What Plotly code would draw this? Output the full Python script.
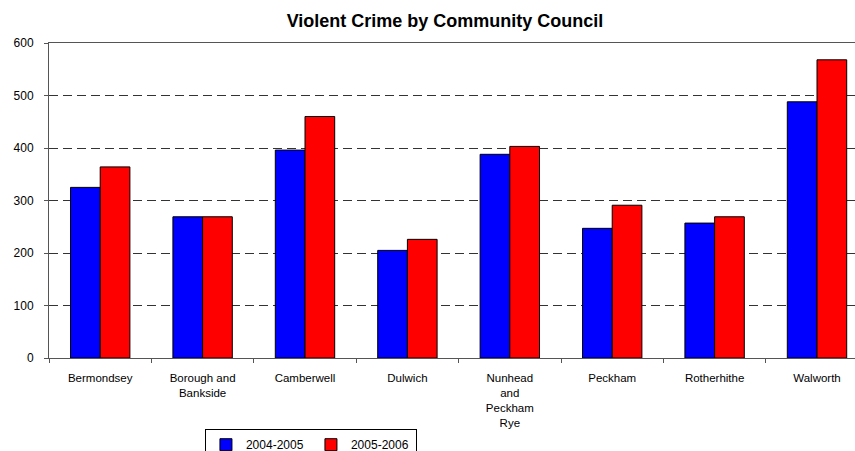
import plotly.graph_objects as go

# Community councils (category axis labels, with line breaks)
councils = [
    "Bermondsey",
    "Borough and<br>Bankside",
    "Camberwell",
    "Dulwich",
    "Nunhead<br>and<br>Peckham<br>Rye",
    "Peckham",
    "Rotherhithe",
    "Walworth",
]

# Violent crime counts per council
crime_2004_2005 = [325, 269, 396, 205, 388, 247, 257, 488]
crime_2005_2006 = [364, 269, 460, 226, 403, 291, 269, 568]

series_names = ["2004-2005", "2005-2006"]
y_ticks = [0, 100, 200, 300, 400, 500, 600]

FONT = "Liberation Sans, Arial, sans-serif"

fig = go.Figure()
fig.add_trace(go.Bar(
    x=councils, y=crime_2004_2005, name=series_names[0],
    marker=dict(color="#0000FF", line=dict(color="#000000", width=1)),
))
fig.add_trace(go.Bar(
    x=councils, y=crime_2005_2006, name=series_names[1],
    marker=dict(color="#FF0000", line=dict(color="#000000", width=1)),
))

fig.update_layout(
    width=855, height=451,
    margin=dict(l=49, r=0, t=43, b=93, autoexpand=False),
    paper_bgcolor="white", plot_bgcolor="white",
    barmode="group", bargap=0.42, bargroupgap=0,
    font=dict(family=FONT, size=11, color="#000000"),
    title=dict(
        text="Violent Crime by Community Council",
        font=dict(family=FONT, size=18, color="#000000", weight="bold"),
        x=0.5205, xanchor="center", xref="container",
        y=0.953, yanchor="middle", yref="container",
    ),
    showlegend=True,
    legend=dict(
        orientation="h",
        x=0.325, xanchor="center", y=-0.226, yanchor="top",
        bordercolor="#000000", borderwidth=1,
        font=dict(family=FONT, size=12, color="#000000"),
        bgcolor="white", tracegroupgap=0, itemwidth=30,
        entrywidth=60, entrywidthmode="pixels",
    ),
)

fig.update_xaxes(
    type="category",
    range=[-0.5, 7.371],
    showline=True, linecolor="#555555", linewidth=1, mirror=True,
    ticks="outside", tickson="boundaries", ticklen=4, tickcolor="#555555",
    showgrid=False, automargin=False,
    tickfont=dict(family=FONT, size=11.5, color="#000000"),
    tickangle=0, ticklabelstandoff=9,
)
fig.update_yaxes(
    range=[0, 600],
    tickvals=y_ticks,
    showline=True, linecolor="#555555", linewidth=1,
    ticks="outside", ticklen=4, tickcolor="#555555",
    showgrid=True, gridcolor="#333333", gridwidth=1, griddash="9px,5px",
    zeroline=False, automargin=False,
    tickfont=dict(family=FONT, size=12, color="#000000"),
    ticklabelstandoff=8,
)

fig.write_html("out.html")
